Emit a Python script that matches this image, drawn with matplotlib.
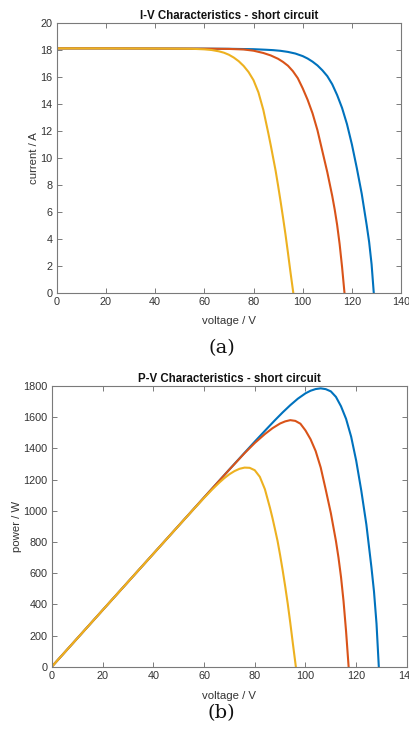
import numpy as np
import matplotlib
matplotlib.use("Agg")
import matplotlib.pyplot as plt

# ---- data (I-V curves) ----
v_blue = [0, 20, 40, 60, 70, 80, 85, 88, 91, 94, 97, 100, 102, 104, 106, 108, 110, 112, 114, 116,
          118, 120, 122, 124, 126, 127, 128, 128.9]
i_blue = [18.1, 18.1, 18.09, 18.08, 18.07, 18.04, 18.0, 17.97, 17.92, 17.84, 17.72, 17.53, 17.35, 17.12,
          16.84, 16.48, 16.05, 15.45, 14.65, 13.7, 12.5, 11.0, 9.25, 7.35, 5.05, 3.8, 2.15, 0]

v_red = [0, 20, 40, 60, 70, 76, 80, 84, 87, 90, 92, 94, 96, 98, 100, 102, 104, 106, 108, 110,
         112, 113, 114, 115, 116, 117]
i_red = [18.1, 18.1, 18.09, 18.08, 18.06, 18.02, 17.93, 17.76, 17.58, 17.33, 17.1, 16.82, 16.42, 15.9,
         15.15, 14.3, 13.3, 12.05, 10.5, 8.95, 7.2, 6.2, 5.05, 3.65, 1.95, 0]

v_yel = [0, 20, 40, 55, 60, 63, 66, 68, 70, 72, 74, 76, 78, 80, 82, 84, 86, 87, 88, 89, 90,
         91, 92, 93, 94, 95, 96.2]
i_yel = [18.1, 18.1, 18.09, 18.07, 18.03, 17.98, 17.88, 17.78, 17.63, 17.42, 17.15, 16.8, 16.35, 15.75,
         14.85, 13.55, 11.85, 10.95, 10.0, 9.05, 7.95, 6.8, 5.6, 4.35, 3.0, 1.6, 0]

x_ticks = [0, 20, 40, 60, 80, 100, 120, 140]
i_ticks = [0, 2, 4, 6, 8, 10, 12, 14, 16, 18, 20]
p_ticks = [0, 200, 400, 600, 800, 1000, 1200, 1400, 1600, 1800]

colors = ["#0072BD", "#D95319", "#EDB120"]
series = [(v_blue, i_blue), (v_red, i_red), (v_yel, i_yel)]

plt.rcParams['font.family'] = ['Liberation Sans', 'DejaVu Sans']
axis_col = "#7a7a7a"
text_col = "#333333"

fig = plt.figure(figsize=(4.1, 7.34), dpi=100)
ax1 = fig.add_axes([0.1383, 0.6004, 0.840, 0.3687])
ax2 = fig.add_axes([0.1263, 0.0917, 0.8663, 0.3824])

for (v, i), c in zip(series, colors):
    ax1.plot(v, i, color=c, lw=1.5, solid_joinstyle='round')
    ax2.plot(v, np.array(v) * np.array(i), color=c, lw=1.5, solid_joinstyle='round')

def style(ax, yt, ylim, ylabel, title, xpad, ypad):
    ax.set_xlim(0, 140)
    ax.set_ylim(*ylim)
    ax.set_xticks(x_ticks)
    ax.set_yticks(yt)
    ax.tick_params(direction='in', length=3.5, width=0.7, top=True, right=True,
                   labelsize=7.8, colors=axis_col, labelcolor=text_col, pad=3)
    for s in ax.spines.values():
        s.set_color(axis_col)
        s.set_linewidth(0.8)
    ax.set_xlabel("voltage / V", fontsize=8.2, color=text_col, labelpad=xpad)
    ax.set_ylabel(ylabel, fontsize=8.2, color=text_col, labelpad=ypad)
    ax.set_title(title, fontsize=8.3, fontweight='bold', color='#111111', pad=3)

style(ax1, i_ticks, (0, 20), "current / A", "I-V Characteristics - short circuit", 6, 0.8)
style(ax2, p_ticks, (0, 1800), "power / W", "P-V Characteristics - short circuit", 7, 1.0)

fig.text(0.541, 1 - 348 / 734, "(a)", family='DejaVu Serif', fontsize=14, ha='center', va='center', color='#111111')
fig.text(0.541, 1 - 713 / 734, "(b)", family='DejaVu Serif', fontsize=14, ha='center', va='center', color='#111111')

fig.savefig("out.png", dpi=100)
